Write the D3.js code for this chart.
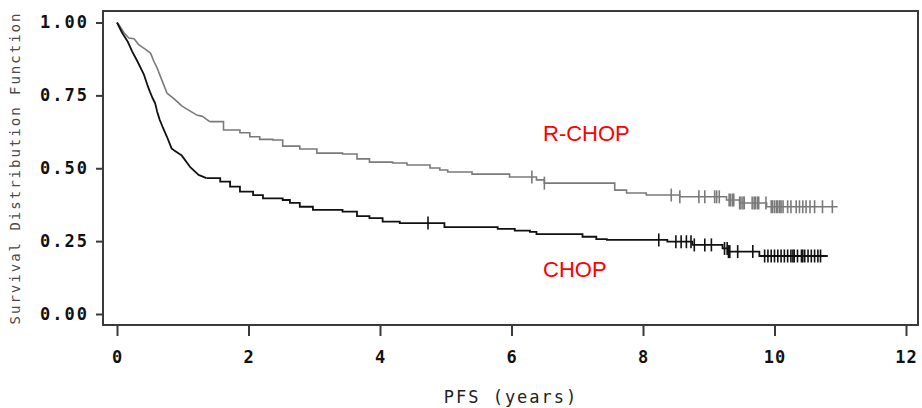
<!DOCTYPE html>
<html><head><meta charset="utf-8">
<script src="https://cdn.jsdelivr.net/npm/d3@7"></script>
<style>
html,body{margin:0;padding:0;background:#fff;}
svg{display:block;}
</style></head>
<body>
<svg id="chart" width="922" height="408"></svg>
<script>
// ---- data ----
const rchopTimes = [0,0.03,0.11,0.18,0.26,0.33,0.44,0.51,0.56,0.61,0.69,0.76,0.86,0.99,1.12,1.21,1.30,1.41,1.62,1.87,2.02,2.17,2.37,2.52,2.78,3.04,3.43,3.65,3.84,4.19,4.41,4.76,4.91,5.03,5.40,5.97,6.38,6.50,7.57,7.75,8.05,8.56,9.27,9.47,9.88];
const rchopSurv  = [1.000,0.992,0.964,0.947,0.944,0.924,0.907,0.895,0.867,0.844,0.798,0.758,0.740,0.713,0.695,0.683,0.678,0.660,0.631,0.622,0.608,0.599,0.597,0.576,0.566,0.552,0.549,0.532,0.521,0.518,0.511,0.501,0.494,0.487,0.480,0.470,0.460,0.449,0.425,0.415,0.408,0.402,0.391,0.381,0.368];
const rchopEnd = 10.96;
const rchopCensor = [6.31,6.50,8.43,8.56,8.85,8.94,9.09,9.12,9.16,9.31,9.33,9.36,9.38,9.47,9.49,9.52,9.54,9.66,9.69,9.71,9.74,9.76,9.87,9.95,9.97,10.00,10.03,10.05,10.08,10.10,10.13,10.20,10.25,10.33,10.38,10.43,10.48,10.54,10.61,10.73,10.88];

const chopTimes = [0,0.08,0.16,0.23,0.31,0.41,0.46,0.50,0.54,0.58,0.61,0.65,0.69,0.76,0.83,0.86,0.98,1.11,1.24,1.36,1.57,1.72,1.87,2.07,2.22,2.52,2.63,2.78,2.98,3.43,3.65,3.84,4.04,4.30,4.98,5.79,6.05,6.28,6.38,7.08,7.29,7.45,8.37,8.75,9.21,9.29,9.77];
const chopSurv  = [1.000,0.964,0.936,0.901,0.867,0.821,0.787,0.763,0.741,0.723,0.695,0.666,0.644,0.608,0.568,0.563,0.545,0.505,0.477,0.466,0.454,0.437,0.420,0.408,0.397,0.391,0.381,0.368,0.357,0.351,0.336,0.329,0.317,0.312,0.298,0.292,0.286,0.282,0.274,0.265,0.257,0.254,0.248,0.237,0.225,0.214,0.199];
const chopEnd = 10.81;
const chopCensor = [4.73,8.24,8.50,8.58,8.66,8.73,8.78,8.94,9.04,9.24,9.28,9.30,9.32,9.44,9.67,9.85,9.90,9.95,10.00,10.05,10.10,10.15,10.20,10.25,10.28,10.30,10.35,10.41,10.43,10.46,10.51,10.56,10.61,10.66,10.70];

const xTicks = [0,2,4,6,8,10,12];
const yTicks = [0,0.25,0.5,0.75,1.0];
const groupNames = ["R-CHOP","CHOP"];
const xTitle = "PFS (years)";
const yTitle = "Survival Distribution Function";

// ---- drawing ----
const svg = d3.select("#chart");
const frame = {left:103, top:11, right:918, bottom:325};
const x = d3.scaleLinear().domain([0,12]).range([117,906]);
const y = d3.scaleLinear().domain([0,1]).range([314,22.5]);

const axisColor = "#3a3a3a";

svg.append("rect")
  .attr("x",frame.left).attr("y",frame.top)
  .attr("width",frame.right-frame.left).attr("height",frame.bottom-frame.top)
  .attr("fill","none").attr("stroke",axisColor).attr("stroke-width",2);

const xAxis = d3.axisBottom(x).tickValues(xTicks).tickFormat(d3.format("d")).tickSize(11).tickPadding(15);
const gx = svg.append("g").attr("transform",`translate(0,${frame.bottom})`).call(xAxis);
gx.select(".domain").remove();
gx.selectAll(".tick line").attr("stroke",axisColor).attr("stroke-width",2);
gx.selectAll(".tick text")
  .attr("fill","#111").style("font-family","'DejaVu Sans Mono', monospace")
  .style("font-weight","bold").style("font-size","17px").style("letter-spacing","1px");

const yAxis = d3.axisLeft(y).tickValues(yTicks).tickFormat(d3.format(".2f")).tickSize(7).tickPadding(7);
const gy = svg.append("g").attr("transform",`translate(${frame.left},0)`).call(yAxis);
gy.select(".domain").remove();
gy.selectAll(".tick line").attr("stroke",axisColor).attr("stroke-width",2);
gy.selectAll(".tick text")
  .attr("fill","#111").style("font-family","'DejaVu Sans Mono', monospace")
  .style("font-weight","bold").style("font-size","17px").style("letter-spacing","2px");

svg.append("text").attr("x",511).attr("y",403).attr("text-anchor","middle")
  .style("font-family","'DejaVu Sans Mono', monospace").style("font-size","17px")
  .style("letter-spacing","2px").attr("fill","#222").text(xTitle);
svg.append("text").attr("transform","translate(20,168) rotate(-90)").attr("text-anchor","middle")
  .style("font-family","'DejaVu Sans Mono', monospace").style("font-size","14px")
  .style("letter-spacing","2px").attr("fill","#4a4a4a").text(yTitle);

function series(times, surv, end){
  const pts = times.map((t,i)=>[t,surv[i]]);
  pts.push([end, surv[surv.length-1]]);
  return pts;
}
function survAt(times, surv, t){
  let s = surv[0];
  for(let i=0;i<times.length;i++){ if(times[i]<=t) s = surv[i]; }
  return s;
}
const lineLin = d3.line().x(d=>x(d[0])).y(d=>y(d[1]));
const lineStep = d3.line().x(d=>x(d[0])).y(d=>y(d[1])).curve(d3.curveStepAfter);

// early steep part has many tiny steps -> drawn as a jagged line; later part as steps
const groups = [
  {times:rchopTimes, surv:rchopSurv, end:rchopEnd, cens:rchopCensor, color:"#7a7a7a", w:1.6, cut:1.42},
  {times:chopTimes, surv:chopSurv, end:chopEnd, cens:chopCensor, color:"#111", w:1.8, cut:1.40}
];
groups.forEach(g=>{
  const pts = series(g.times,g.surv,g.end);
  const k = pts.findIndex(p=>p[0]>g.cut);
  const early = pts.slice(0,k);
  const late = pts.slice(k-1);
  svg.append("path").attr("d",lineLin(early))
    .attr("fill","none").attr("stroke",g.color).attr("stroke-width",g.w).attr("stroke-linejoin","round");
  svg.append("path").attr("d",lineStep(late))
    .attr("fill","none").attr("stroke",g.color).attr("stroke-width",g.w);
  svg.append("g").selectAll("line").data(g.cens).join("line")
    .attr("x1",d=>x(d)).attr("x2",d=>x(d))
    .attr("y1",d=>y(survAt(g.times,g.surv,d))-6.5)
    .attr("y2",d=>y(survAt(g.times,g.surv,d))+6.5)
    .attr("stroke",g.color).attr("stroke-width",1.6);
});

svg.append("text").attr("x",543).attr("y",141)
  .style("font-family","'Liberation Sans', Arial, sans-serif").style("font-size","22px")
  .attr("fill","#ff0000").text(groupNames[0]);
svg.append("text").attr("x",543).attr("y",277)
  .style("font-family","'Liberation Sans', Arial, sans-serif").style("font-size","22px")
  .attr("fill","#ff0000").text(groupNames[1]);
</script>
</body></html>
